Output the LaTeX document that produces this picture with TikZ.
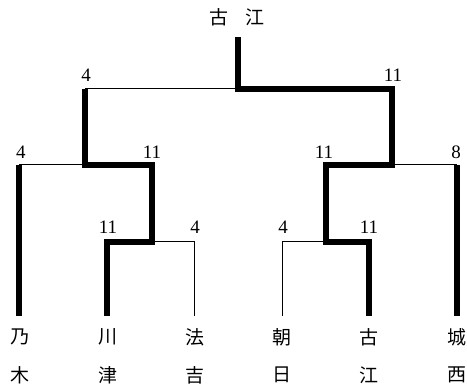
\documentclass[tikz,border=0pt]{standalone}
\usepackage{fontspec}
\setmainfont{Liberation Serif}
\newfontfamily\cjk{Noto Sans CJK JP}
\begin{document}
\begin{tikzpicture}[x=1pt,y=-1pt,
  thinline/.style={line width=1pt},
  thickline/.style={line width=5.5pt},
  score/.style={font=\fontsize{19}{19}\selectfont, anchor=base},
  pname/.style={font=\cjk\fontsize{19}{19}\selectfont, anchor=center}]
\useasboundingbox (0,0) rectangle (467,385);
% leaves
\coordinate (L1) at (19,316);
\coordinate (L2) at (107,316);
\coordinate (L3) at (194,316);
\coordinate (L4) at (282,316);
\coordinate (L5) at (369,316);
\coordinate (L6) at (457,316);
% round 1 junctions
\coordinate (a2) at (107,242);
\coordinate (a3) at (194,242);
\coordinate (m1) at (152,242);
\coordinate (a4) at (282,242);
\coordinate (a5) at (369,242);
\coordinate (m2) at (326,242);
% round 2
\coordinate (b1) at (19,165);
\coordinate (b2) at (152,165);
\coordinate (n1) at (85,165);
\coordinate (b3) at (326,165);
\coordinate (b4) at (457,165);
\coordinate (n2) at (392,165);
% round 3
\coordinate (c1) at (85,89);
\coordinate (c2) at (392,89);
\coordinate (top) at (238,89);
\coordinate (win) at (238,37);
% thin lines
\draw[thinline] (L3) -- (a3) -- (m1);
\draw[thinline] (L4) -- (a4) -- (m2);
\draw[thinline] (b1) -- (n1);
\draw[thinline] (b4) -- (n2);
\draw[thinline] (c1) -- (top);
% thick lines
\draw[thickline, line join=miter] (L1) -- (b1);
\draw[thickline, line join=miter] (L2) -- (a2) -- (m1) -- (b2) -- (n1) -- (c1);
\draw[thickline, line join=miter] (L5) -- (a5) -- (m2) -- (b3) -- (n2) -- (c2) -- (top) -- (win);
\draw[thickline] (L6) -- (b4);
% scores
\node[score] (s1) at (86,82) {4};
\node[score] (s2) at (393,82) {11};
\node[score] (s3) at (21,159) {4};
\node[score] (s4) at (152,159) {11};
\node[score] (s5) at (324,159) {11};
\node[score] (s6) at (456,159) {8};
\node[score] (s7) at (108,234) {11};
\node[score] (s8) at (195,234) {4};
\node[score] (s9) at (283,234) {4};
\node[score] (s10) at (369,234) {11};
% champion
\node[pname] (w1) at (219,17) {古};
\node[pname] (w2) at (255,17) {江};
% names
\node[pname] (p1a) at (20,337) {乃};
\node[pname] (p1b) at (20,375) {木};
\node[pname] (p2a) at (108,337) {川};
\node[pname] (p2b) at (108,375) {津};
\node[pname] (p3a) at (195,337) {法};
\node[pname] (p3b) at (195,375) {吉};
\node[pname] (p4a) at (282,337) {朝};
\node[pname] (p4b) at (282,375) {日};
\node[pname] (p5a) at (369,337) {古};
\node[pname] (p5b) at (369,375) {江};
\node[pname] (p6a) at (457,337) {城};
\node[pname] (p6b) at (457,375) {西};
\end{tikzpicture}
\end{document}
